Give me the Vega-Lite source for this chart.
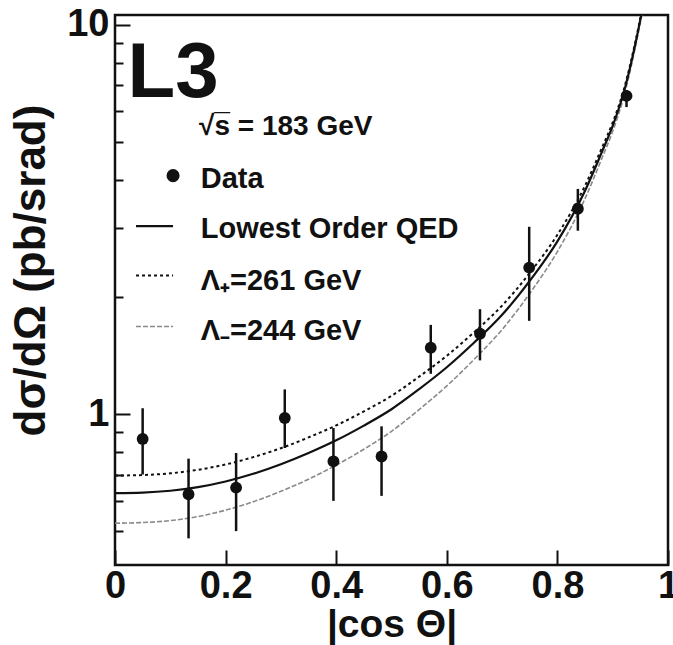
{
  "$schema": "https://vega.github.io/schema/vega-lite/v6.json",
  "width": 553,
  "height": 550,
  "autosize": {"type": "none"},
  "padding": {"left": 115, "top": 15, "right": 5, "bottom": 80},
  "background": "white",
  "config": {
    "font": "Liberation Sans",
    "view": {"stroke": "#111", "strokeWidth": 2.5},
    "axis": {"domain": false, "grid": false, "tickColor": "#111", "tickWidth": 2, "labelColor": "#111", "titleColor": "#111", "labelFont": "Liberation Sans", "titleFont": "Liberation Sans", "labelFontWeight": "bold", "titleFontWeight": "bold"}
  },
  "datasets": {
    "one": [{"k": 1}],
    "pts": [
      {"c": 0.05, "v": 0.864, "lo": 0.700, "hi": 1.036},
      {"c": 0.133, "v": 0.623, "lo": 0.480, "hi": 0.769},
      {"c": 0.219, "v": 0.648, "lo": 0.501, "hi": 0.795},
      {"c": 0.307, "v": 0.978, "lo": 0.819, "hi": 1.158},
      {"c": 0.395, "v": 0.757, "lo": 0.599, "hi": 0.922},
      {"c": 0.482, "v": 0.779, "lo": 0.617, "hi": 0.931},
      {"c": 0.571, "v": 1.482, "lo": 1.27, "hi": 1.696},
      {"c": 0.660, "v": 1.61, "lo": 1.375, "hi": 1.861},
      {"c": 0.749, "v": 2.38, "lo": 1.737, "hi": 3.03},
      {"c": 0.837, "v": 3.37, "lo": 2.96, "hi": 3.79},
      {"c": 0.925, "v": 6.57, "lo": 6.15, "hi": 6.80}
    ],
    "qed": [
      {"c": 0, "v": 0.627}, {"c": 0.05, "v": 0.629}, {"c": 0.1, "v": 0.636}, {"c": 0.15, "v": 0.650},
      {"c": 0.2, "v": 0.672}, {"c": 0.25, "v": 0.703}, {"c": 0.3, "v": 0.744}, {"c": 0.35, "v": 0.795},
      {"c": 0.4, "v": 0.857}, {"c": 0.45, "v": 0.935}, {"c": 0.5, "v": 1.03}, {"c": 0.55, "v": 1.16},
      {"c": 0.6, "v": 1.32}, {"c": 0.65, "v": 1.53}, {"c": 0.7, "v": 1.80}, {"c": 0.75, "v": 2.20},
      {"c": 0.8, "v": 2.78}, {"c": 0.85, "v": 3.75}, {"c": 0.88, "v": 4.7}, {"c": 0.9, "v": 5.5},
      {"c": 0.92, "v": 6.7}, {"c": 0.94, "v": 8.8}, {"c": 0.955, "v": 11.2}
    ],
    "lp": [
      {"c": 0, "v": 0.696}, {"c": 0.05, "v": 0.698}, {"c": 0.1, "v": 0.705}, {"c": 0.15, "v": 0.720},
      {"c": 0.2, "v": 0.743}, {"c": 0.25, "v": 0.776}, {"c": 0.3, "v": 0.818}, {"c": 0.35, "v": 0.872},
      {"c": 0.4, "v": 0.936}, {"c": 0.45, "v": 1.017}, {"c": 0.5, "v": 1.115}, {"c": 0.55, "v": 1.249},
      {"c": 0.6, "v": 1.413}, {"c": 0.65, "v": 1.627}, {"c": 0.7, "v": 1.901}, {"c": 0.75, "v": 2.306},
      {"c": 0.8, "v": 2.890}, {"c": 0.85, "v": 3.864}, {"c": 0.88, "v": 4.817}, {"c": 0.9, "v": 5.615},
      {"c": 0.92, "v": 6.813}, {"c": 0.94, "v": 8.913}, {"c": 0.955, "v": 11.31}
    ],
    "lm": [
      {"c": 0, "v": 0.525}, {"c": 0.05, "v": 0.527}, {"c": 0.1, "v": 0.533}, {"c": 0.15, "v": 0.546},
      {"c": 0.2, "v": 0.567}, {"c": 0.25, "v": 0.596}, {"c": 0.3, "v": 0.634}, {"c": 0.35, "v": 0.681},
      {"c": 0.4, "v": 0.740}, {"c": 0.45, "v": 0.813}, {"c": 0.5, "v": 0.904}, {"c": 0.55, "v": 1.028},
      {"c": 0.6, "v": 1.182}, {"c": 0.65, "v": 1.386}, {"c": 0.7, "v": 1.650}, {"c": 0.75, "v": 2.043},
      {"c": 0.8, "v": 2.617}, {"c": 0.85, "v": 3.580}, {"c": 0.88, "v": 4.527}, {"c": 0.9, "v": 5.330},
      {"c": 0.92, "v": 6.532}, {"c": 0.94, "v": 8.633}, {"c": 0.955, "v": 11.04}
    ]
  },
  "layer": [
    {
      "data": {"name": "lm"},
      "mark": {"type": "line", "interpolate": "monotone", "clip": true, "color": "#8a8a8a", "strokeWidth": 1.6, "strokeDash": [5, 2]},
      "encoding": {
        "x": {
          "field": "c", "type": "quantitative",
          "scale": {"domain": [0, 1], "nice": false, "zero": false},
          "axis": {
            "title": "|cos Θ|", "values": [0, 0.2, 0.4, 0.6, 0.8, 1],
            "labelExpr": "format(datum.value, '~g')",
            "tickSize": -15, "labelPadding": 17, "labelFontSize": 38, "labelFlush": false, "labelOverlap": false,
            "titleFontSize": 39, "titlePadding": 0
          }
        },
        "y": {
          "field": "v", "type": "quantitative",
          "scale": {"type": "log", "domain": [0.41, 10.6], "nice": false},
          "axis": {
            "title": "dσ/dΩ (pb/srad)",
            "values": [0.5, 0.6, 0.7, 0.8, 0.9, 1, 2, 3, 4, 5, 6, 7, 8, 9, 10],
            "labelExpr": "datum.value == 1 ? '1' : (datum.value == 10 ? '10' : '')",
            "tickSize": {"condition": {"test": "datum.value == 1 || datum.value == 10", "value": -15}, "value": -8},
            "labelPadding": 21, "labelFontSize": 38, "labelOverlap": false,
            "titleFontSize": 44, "titleX": -84, "titleY": 255, "titleAngle": -90, "titleAlign": "center", "titleBaseline": "middle"
          }
        }
      }
    },
    {"data": {"name": "lp"}, "mark": {"type": "line", "interpolate": "monotone", "clip": true, "color": "#111", "strokeWidth": 2, "strokeDash": [3, 3]},
     "encoding": {"x": {"field": "c", "type": "quantitative"}, "y": {"field": "v", "type": "quantitative"}}},
    {"data": {"name": "qed"}, "mark": {"type": "line", "interpolate": "monotone", "clip": true, "color": "#111", "strokeWidth": 2.2},
     "encoding": {"x": {"field": "c", "type": "quantitative"}, "y": {"field": "v", "type": "quantitative"}}},
    {"data": {"name": "pts"}, "mark": {"type": "rule", "color": "#111", "strokeWidth": 2.5},
     "encoding": {"x": {"field": "c", "type": "quantitative"}, "y": {"field": "lo", "type": "quantitative"}, "y2": {"field": "hi"}}},
    {"data": {"name": "pts"}, "mark": {"type": "point", "filled": true, "color": "#111", "opacity": 1, "size": 140},
     "encoding": {"x": {"field": "c", "type": "quantitative"}, "y": {"field": "v", "type": "quantitative"}}},
    {"data": {"name": "one"}, "mark": {"type": "text", "fontSize": 78, "fontWeight": "bold", "align": "left", "baseline": "alphabetic", "color": "#111"}, "encoding": {"x": {"datum": 0.0226}, "y": {"datum": 6.52}, "text": {"value": "L3"}}},
    {"data": {"name": "one"}, "mark": {"type": "text", "fontSize": 28, "fontWeight": "bold", "align": "left", "baseline": "alphabetic", "color": "#111"}, "encoding": {"x": {"datum": 0.152}, "y": {"datum": 5.21}, "text": {"value": "√s̅ = 183 GeV"}}},
    {"data": {"name": "one"}, "mark": {"type": "point", "filled": true, "color": "#111", "opacity": 1, "size": 170}, "encoding": {"x": {"datum": 0.105}, "y": {"datum": 4.1}}},
    {"data": {"name": "one"}, "mark": {"type": "text", "fontSize": 29, "fontWeight": "bold", "align": "left", "baseline": "alphabetic", "color": "#111"}, "encoding": {"x": {"datum": 0.155}, "y": {"datum": 3.82}, "text": {"value": "Data"}}},
    {"data": {"name": "one"}, "mark": {"type": "rule", "color": "#111", "strokeWidth": 2.2}, "encoding": {"x": {"datum": 0.038}, "x2": {"datum": 0.105}, "y": {"datum": 3.04}}},
    {"data": {"name": "one"}, "mark": {"type": "text", "fontSize": 29, "fontWeight": "bold", "align": "left", "baseline": "alphabetic", "color": "#111"}, "encoding": {"x": {"datum": 0.155}, "y": {"datum": 2.83}, "text": {"value": "Lowest Order QED"}}},
    {"data": {"name": "one"}, "mark": {"type": "rule", "color": "#111", "strokeWidth": 2, "strokeDash": [3, 3]}, "encoding": {"x": {"datum": 0.038}, "x2": {"datum": 0.105}, "y": {"datum": 2.27}}},
    {"data": {"name": "one"}, "mark": {"type": "text", "fontSize": 29, "fontWeight": "bold", "align": "left", "baseline": "alphabetic", "color": "#111"}, "encoding": {"x": {"datum": 0.155}, "y": {"datum": 2.09}, "text": {"value": "Λ₊=261 GeV"}}},
    {"data": {"name": "one"}, "mark": {"type": "rule", "color": "#8a8a8a", "strokeWidth": 1.6, "strokeDash": [5, 2]}, "encoding": {"x": {"datum": 0.038}, "x2": {"datum": 0.105}, "y": {"datum": 1.68}}},
    {"data": {"name": "one"}, "mark": {"type": "text", "fontSize": 29, "fontWeight": "bold", "align": "left", "baseline": "alphabetic", "color": "#111"}, "encoding": {"x": {"datum": 0.155}, "y": {"datum": 1.55}, "text": {"value": "Λ₋=244 GeV"}}}
  ]
}
